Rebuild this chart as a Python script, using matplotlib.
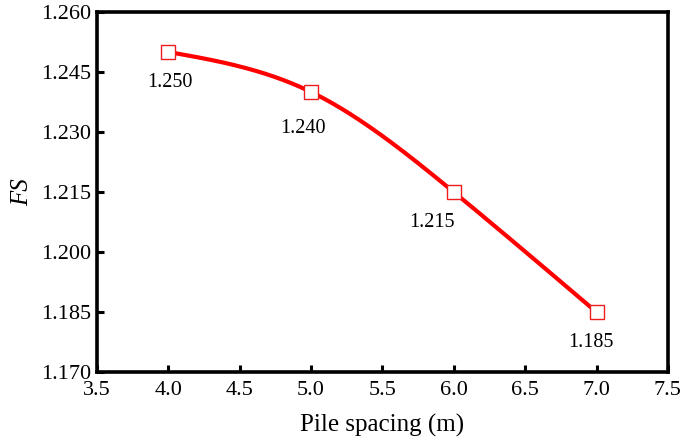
import numpy as np
import matplotlib
matplotlib.use('Agg')
import matplotlib.pyplot as plt

spacing = [4.0, 5.0, 6.0, 7.0]
fs = [1.250, 1.240, 1.215, 1.185]
labels = ['1.250', '1.240', '1.215', '1.185']
label_offsets = [(1, -22), (-6, -26), (-16, -22), (-4, -22)]

plt.rcParams['font.family'] = ['Liberation Serif', 'DejaVu Serif']


def natural_spline(x, y, n=200):
    # natural cubic spline for a smooth line through the data points
    x = np.asarray(x, float)
    y = np.asarray(y, float)
    k = len(x)
    h = np.diff(x)
    A = np.zeros((k, k))
    b = np.zeros(k)
    A[0, 0] = A[-1, -1] = 1
    for i in range(1, k - 1):
        A[i, i - 1] = h[i - 1]
        A[i, i] = 2 * (h[i - 1] + h[i])
        A[i, i + 1] = h[i]
        b[i] = 3 * ((y[i + 1] - y[i]) / h[i] - (y[i] - y[i - 1]) / h[i - 1])
    c = np.linalg.solve(A, b)
    xs = np.linspace(x[0], x[-1], n)
    ys = np.empty_like(xs)
    for j, xv in enumerate(xs):
        i = min(np.searchsorted(x, xv, side='right') - 1, k - 2)
        d = xv - x[i]
        bi = (y[i + 1] - y[i]) / h[i] - h[i] * (2 * c[i] + c[i + 1]) / 3
        di = (c[i + 1] - c[i]) / (3 * h[i])
        ys[j] = y[i] + bi * d + c[i] * d ** 2 + di * d ** 3
    return xs, ys


fig = plt.figure(figsize=(6.85, 4.42), dpi=100)
ax = fig.add_axes([0.1416, 0.158, 0.8334, 0.815])

xs, ys = natural_spline(spacing, fs)
ax.plot(xs, ys, color='#ff0000', lw=3.0, zorder=2)
ax.plot(spacing, fs, ls='none', marker='s', ms=9.5, mfc='white', mec='#ee1c1c', mew=1.0, zorder=3)

for x, y, t, off in zip(spacing, fs, labels, label_offsets):
    ax.annotate(t, (x, y), xytext=off, textcoords='offset points',
                ha='center', va='center', fontsize=14.5)

ax.set_xlim(3.5, 7.5)
ax.set_ylim(1.170, 1.260)
ax.set_xticks(np.arange(3.5, 7.51, 0.5))
ax.set_yticks(np.arange(1.170, 1.2601, 0.015))
ax.set_xticklabels(['%.1f' % v for v in np.arange(3.5, 7.51, 0.5)])
ax.set_yticklabels(['%.3f' % v for v in np.arange(1.170, 1.2601, 0.015)])
ax.tick_params(direction='in', length=5, width=2.2, labelsize=16)
ax.tick_params(axis='x', pad=6.5)
ax.tick_params(axis='y', pad=4)

for s in ax.spines.values():
    s.set_linewidth(2.6)

ax.set_xlabel('Pile spacing (m)', fontsize=18, labelpad=10)
ax.set_ylabel('FS', fontsize=18, style='italic', labelpad=6)

plt.savefig('out.png', dpi=100)
